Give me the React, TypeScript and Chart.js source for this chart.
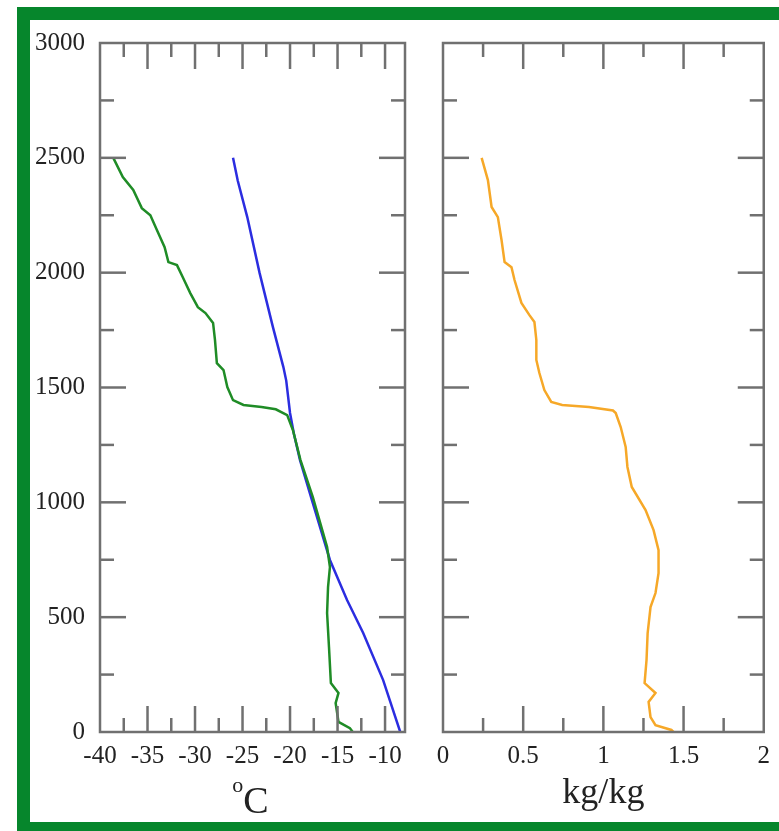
import { useEffect, useRef } from 'react';
import { Chart, registerables } from 'chart.js';

Chart.register(...registerables);

// Sounding profile: heights in metres
const tempHeights = [2500, 2400, 2242, 1998, 1763, 1589, 1530, 1389, 1300, 1184, 997, 749, 575, 431, 226, 0];
const tempValues = [-26.0, -25.5, -24.5, -23.2, -21.8, -20.7, -20.4, -20.0, -19.6, -18.95, -17.6, -15.8, -14.0, -12.3, -10.2, -8.4];

const dewHeights = [
  2500, 2416, 2360, 2281, 2250, 2185, 2111, 2046, 2033, 1981, 1911, 1850, 1824, 1781, 1707, 1606,
  1576, 1502, 1445, 1424, 1415, 1405, 1380, 1315, 1184, 1023, 805, 718, 631, 518, 370, 213, 170,
  126, 44, 17, 0,
];
const dewValues = [
  -38.6, -37.6, -36.5, -35.6, -34.7, -34.0, -33.2, -32.8, -31.9, -31.3, -30.5, -29.7, -28.9, -28.1,
  -27.9, -27.7, -27.0, -26.6, -26.0, -24.9, -23.0, -21.5, -20.3, -19.7, -18.9, -17.6, -16.1, -15.8,
  -16.0, -16.1, -15.9, -15.7, -14.9, -15.2, -14.9, -13.7, -13.4,
];

const mixHeights = [
  2500, 2403, 2286, 2242, 2142, 2046, 2024, 1968, 1868, 1815, 1785, 1707, 1620, 1563, 1489, 1437,
  1424, 1415, 1400, 1389, 1328, 1241, 1154, 1067, 966, 879, 792, 692, 605, 544, 431, 313, 213, 170,
  131, 65, 30, 9, 0,
];
const mixValues = [
  0.241, 0.28, 0.303, 0.342, 0.365, 0.384, 0.427, 0.446, 0.489, 0.539, 0.57, 0.582, 0.582, 0.601,
  0.632, 0.675, 0.743, 0.91, 1.06, 1.077, 1.108, 1.139, 1.15, 1.177, 1.263, 1.313, 1.344, 1.344,
  1.325, 1.294, 1.276, 1.269, 1.257, 1.325, 1.282, 1.294, 1.325, 1.424, 1.437,
];

const heightTicks = [0, 500, 1000, 1500, 2000, 2500, 3000];
const heightMinorTicks = [250, 750, 1250, 1750, 2250, 2750];
const tempTicks = [-40, -35, -30, -25, -20, -15, -10];
const tempMinorTicks = [-37.5, -32.5, -27.5, -22.5, -17.5, -12.5];
const mixTicks = [0, 0.5, 1, 1.5, 2];
const mixMinorTicks = [0.25, 0.75, 1.25, 1.75];

const AXIS_COLOR = '#707070';
const TEXT_COLOR = '#222222';
const FONT = '"Liberation Serif", "DejaVu Serif", serif';
const TICK_FONT_SIZE = 25;
const MAJOR_LEN = 26;
const MINOR_LEN = 14;

type TitlePart = { text: string; size: number; dy: number };

const framePlugin = {
  id: 'frameTicks',
  afterDraw(chart: any, _args: any, opts: any) {
    const { ctx, chartArea: a, scales } = chart;
    const xs = scales.x;
    const ys = scales.y;
    ctx.save();
    ctx.strokeStyle = AXIS_COLOR;
    ctx.lineWidth = 2.5;
    ctx.lineCap = 'butt';
    const seg = (x1: number, y1: number, x2: number, y2: number) => {
      ctx.beginPath();
      ctx.moveTo(x1, y1);
      ctx.lineTo(x2, y2);
      ctx.stroke();
    };
    const xSets: [number[], number][] = [
      [opts.xMajor, MAJOR_LEN],
      [opts.xMinor, MINOR_LEN],
    ];
    for (const [vals, len] of xSets) {
      for (const v of vals) {
        const p = xs.getPixelForValue(v);
        if (p <= a.left + 1 || p >= a.right - 1) continue;
        seg(p, a.bottom, p, a.bottom - len);
        seg(p, a.top, p, a.top + len);
      }
    }
    const ySets: [number[], number][] = [
      [opts.yMajor, MAJOR_LEN],
      [opts.yMinor, MINOR_LEN],
    ];
    for (const [vals, len] of ySets) {
      for (const v of vals) {
        const p = ys.getPixelForValue(v);
        if (p <= a.top + 1 || p >= a.bottom - 1) continue;
        seg(a.left, p, a.left + len, p);
        seg(a.right, p, a.right - len, p);
      }
    }
    ctx.strokeRect(a.left, a.top, a.right - a.left, a.bottom - a.top);

    // axis title
    const parts: TitlePart[] = opts.title;
    ctx.fillStyle = TEXT_COLOR;
    ctx.textBaseline = 'alphabetic';
    ctx.textAlign = 'left';
    const widths = parts.map((pt) => {
      ctx.font = `${pt.size}px ${FONT}`;
      return ctx.measureText(pt.text).width;
    });
    const total = widths.reduce((s, w) => s + w, 0);
    let x = (a.left + a.right) / 2 + (opts.titleShift || 0) - total / 2;
    parts.forEach((pt, i) => {
      ctx.font = `${pt.size}px ${FONT}`;
      ctx.fillText(pt.text, x, a.bottom + pt.dy);
      x += widths[i];
    });
    ctx.restore();
  },
};

function toPoints(xs: number[], ys: number[]) {
  return xs.map((x, i) => ({ x, y: ys[i] }));
}

function makeScales(opts: {
  xMin: number;
  xMax: number;
  xTicks: number[];
  yWidth: number;
  showY: boolean;
}) {
  return {
    x: {
      type: 'linear',
      min: opts.xMin,
      max: opts.xMax,
      grid: { display: false, drawTicks: false },
      border: { display: false },
      afterBuildTicks: (s: any) => {
        s.ticks = opts.xTicks.map((v) => ({ value: v }));
      },
      afterFit: (s: any) => {
        s.height = 60;
      },
      ticks: {
        autoSkip: false,
        maxRotation: 0,
        padding: 9,
        color: TEXT_COLOR,
        font: { family: FONT, size: TICK_FONT_SIZE },
        callback: (v: any) => String(v),
      },
    },
    y: {
      type: 'linear',
      min: 0,
      max: 3000,
      grid: { display: false, drawTicks: false },
      border: { display: false },
      afterBuildTicks: (s: any) => {
        s.ticks = heightTicks.map((v) => ({ value: v }));
      },
      afterFit: (s: any) => {
        s.width = opts.yWidth;
      },
      ticks: {
        display: opts.showY,
        autoSkip: false,
        padding: 15,
        color: TEXT_COLOR,
        font: { family: FONT, size: TICK_FONT_SIZE },
        callback: (v: any) => String(v),
      },
    },
  };
}

const lineStyle = {
  showLine: true,
  pointRadius: 0,
  borderWidth: 2.5,
  tension: 0,
  fill: false,
};

function TemperaturePanel() {
  const ref = useRef<HTMLCanvasElement>(null);
  useEffect(() => {
    const chart = new Chart(ref.current as HTMLCanvasElement, {
      type: 'scatter',
      data: {
        datasets: [
          { ...lineStyle, data: toPoints(dewValues, dewHeights), borderColor: '#1f8c26' },
          { ...lineStyle, data: toPoints(tempValues, tempHeights), borderColor: '#2b2de0' },
        ],
      },
      options: {
        responsive: false,
        animation: false,
        devicePixelRatio: 1,
        layout: { padding: { left: 0, top: 43, right: 15, bottom: 39 } },
        plugins: {
          legend: { display: false },
          tooltip: { enabled: false },
          frameTicks: {
            xMajor: tempTicks,
            xMinor: tempMinorTicks,
            yMajor: heightTicks,
            yMinor: heightMinorTicks,
            titleShift: -2,
            title: [
              { text: 'o', size: 22, dy: 60 },
              { text: 'C', size: 38, dy: 81 },
            ],
          },
        } as any,
        scales: makeScales({ xMin: -40, xMax: -7.9, xTicks: tempTicks, yWidth: 100, showY: true }) as any,
      },
      plugins: [framePlugin],
    } as any);
    return () => chart.destroy();
  }, []);
  return (
    <canvas
      ref={ref}
      width={420}
      height={831}
      style={{ position: 'absolute', left: 0, top: 0, width: 420, height: 831 }}
    />
  );
}

function MixingRatioPanel() {
  const ref = useRef<HTMLCanvasElement>(null);
  useEffect(() => {
    const chart = new Chart(ref.current as HTMLCanvasElement, {
      type: 'scatter',
      data: {
        datasets: [{ ...lineStyle, data: toPoints(mixValues, mixHeights), borderColor: '#f6a828' }],
      },
      options: {
        responsive: false,
        animation: false,
        devicePixelRatio: 1,
        layout: { padding: { left: 0, top: 43, right: 13, bottom: 39 } },
        plugins: {
          legend: { display: false },
          tooltip: { enabled: false },
          frameTicks: {
            xMajor: mixTicks,
            xMinor: mixMinorTicks,
            yMajor: heightTicks,
            yMinor: heightMinorTicks,
            titleShift: 0,
            title: [{ text: 'kg/kg', size: 36, dy: 71 }],
          },
        } as any,
        scales: makeScales({ xMin: 0, xMax: 2, xTicks: mixTicks, yWidth: 23, showY: false }) as any,
      },
      plugins: [framePlugin],
    } as any);
    return () => chart.destroy();
  }, []);
  return (
    <canvas
      ref={ref}
      width={359}
      height={831}
      style={{ position: 'absolute', left: 420, top: 0, width: 359, height: 831 }}
    />
  );
}

export default function App() {
  return (
    <div
      style={{
        position: 'fixed',
        left: 0,
        top: 0,
        width: 779,
        height: 831,
        overflow: 'hidden',
        background: '#ffffff',
      }}
    >
      <div
        style={{
          position: 'absolute',
          left: 17,
          top: 7,
          width: 800,
          height: 828,
          boxSizing: 'border-box',
          border: '13px solid #06862c',
        }}
      />
      <TemperaturePanel />
      <MixingRatioPanel />
    </div>
  );
}
